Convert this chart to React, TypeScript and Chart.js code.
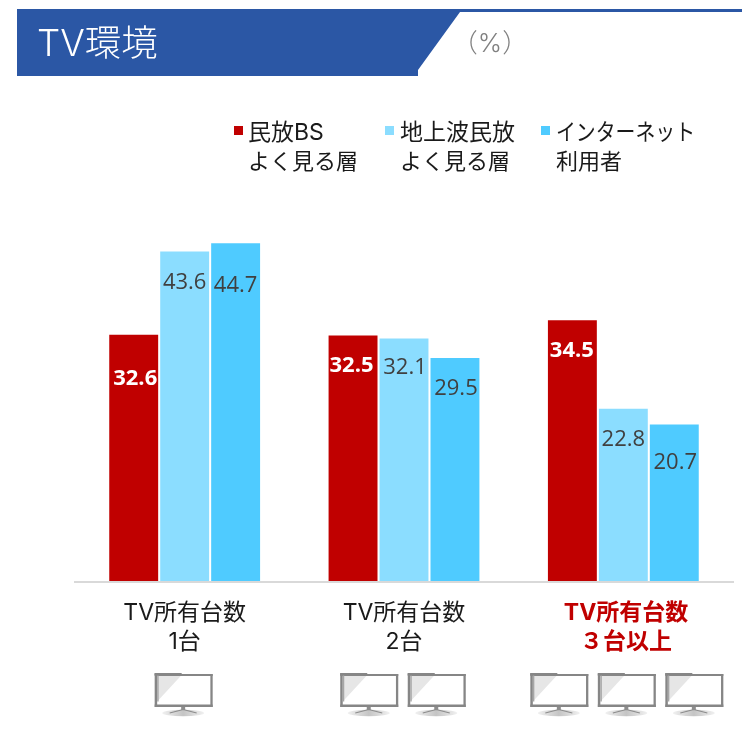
import React, { useEffect, useRef } from "react";
import { Chart, registerables } from "chart.js";

Chart.register(...registerables);

const categories = [
  ["TV所有台数", "1台"],
  ["TV所有台数", "2台"],
  ["TV所有台数", "３台以上"],
];

const bsValues = [32.6, 32.5, 34.5];
const terrestrialValues = [43.6, 32.1, 22.8];
const internetValues = [44.7, 29.5, 20.7];
const tvCounts = [1, 2, 3];

const seriesLabels = [["民放BS", "よく見る層"], ["地上波民放", "よく見る層"], ["インターネット", "利用者"]];
const seriesColors = ["#C00000", "#8BDDFF", "#4FCBFF"];

const TITLE = "TV環境";
const UNIT = "（%）";
const JP = 'Inter, "Noto Sans CJK JP", "Noto Sans", sans-serif';
const NUM = '"Open Sans", "Noto Sans", sans-serif';

// layout only
const legendBoxX = [234, 385, 541];
const legendTextX = [248, 400, 556];
const labelDrop = [
  [44, 30, 30],
  [31, 29, 31],
  [42, 31, 38],
];
const labelShift = [
  [1.5, -1.5, -0.5],
  [0, 1, 0],
  [0, 1, 1],
];
const iconCenterShift = [-1, -1, 3.5];

function drawTv(ctx: CanvasRenderingContext2D, x: number, y: number) {
  // x,y: left/top of frame; frame is 58 x 34
  ctx.save();
  const grad = ctx.createLinearGradient(x + 7, 0, x + 50, 0);
  grad.addColorStop(0, "#f2f2f2");
  grad.addColorStop(0.5, "#c4c4c4");
  grad.addColorStop(1, "#f2f2f2");
  ctx.fillStyle = grad;
  ctx.beginPath();
  ctx.ellipse(x + 28.5, y + 40, 21, 3.2, 0, 0, Math.PI * 2);
  ctx.fill();
  ctx.strokeStyle = "#8c8c8c";
  ctx.lineWidth = 1.2;
  ctx.beginPath();
  ctx.moveTo(x + 15, y + 40);
  ctx.lineTo(x + 28.5, y + 36.5);
  ctx.lineTo(x + 42, y + 40);
  ctx.stroke();
  ctx.fillStyle = "#8c8c8c";
  ctx.fillRect(x + 26.5, y + 33, 4, 4);
  ctx.fillStyle = "#ffffff";
  ctx.fillRect(x, y, 58, 34);
  ctx.fillStyle = "#e6e6e6";
  ctx.beginPath();
  ctx.moveTo(x + 3, y + 2);
  ctx.lineTo(x + 27, y + 2);
  ctx.lineTo(x + 3, y + 28);
  ctx.closePath();
  ctx.fill();
  ctx.fillStyle = "#868686";
  ctx.fillRect(x, y + 1, 58, 2);
  ctx.fillRect(x, y, 27, 2);
  ctx.fillRect(x, y + 31.5, 58, 2.5);
  ctx.fillRect(x + 55.7, y + 1, 2.3, 33);
  ctx.fillRect(x, y, 2.5, 34);
  ctx.fillStyle = "#a6a6a6";
  ctx.fillRect(x + 2.5, y + 2.5, 1.5, 26);
  ctx.restore();
}

const decorPlugin = {
  id: "decor",
  beforeDraw(chart: any) {
    const { ctx } = chart;
    ctx.save();
    ctx.fillStyle = "#ffffff";
    ctx.fillRect(0, 0, chart.width, chart.height);
    ctx.fillStyle = "#2B57A5";
    ctx.fillRect(17, 9, chart.width - 17, 3);
    ctx.beginPath();
    ctx.moveTo(17, 9);
    ctx.lineTo(460, 9);
    ctx.lineTo(460, 12);
    ctx.lineTo(418, 70);
    ctx.lineTo(418, 76);
    ctx.lineTo(17, 76);
    ctx.closePath();
    ctx.fill();
    ctx.textBaseline = "middle";
    ctx.textAlign = "left";
    ctx.fillStyle = "#ffffff";
    ctx.font = `300 36.5px ${JP}`;
    ctx.fillText(TITLE, 37, 45);
    ctx.textAlign = "center";
    ctx.fillStyle = "#808080";
    ctx.font = `300 26px ${JP}`;
    ctx.fillText(UNIT, 490, 44);
    // legend
    ctx.textAlign = "left";
    chart.data.datasets.forEach((ds: any, i: number) => {
      ctx.fillStyle = ds.backgroundColor;
      ctx.fillRect(legendBoxX[i], 126, 9, 9);
      ctx.fillStyle = "#1a1a1a";
      seriesLabels[i].forEach((t, k) => {
        ctx.font = k === 0 ? `400 23px ${JP}` : `400 22px ${JP}`;
        if (i === 2 && k === 0) ctx.fillText(t, legendTextX[i], 133, 139);
        else ctx.fillText(t, legendTextX[i], 133 + 29 * k);
      });
    });
    // TV icons
    const xs = chart.scales.x;
    tvCounts.forEach((n, c) => {
      const cx = xs.getPixelForTick(c) + iconCenterShift[c];
      for (let k = 0; k < n; k++) {
        const left = cx - 29 + (k - (n - 1) / 2) * 67.5;
        drawTv(ctx, left, 673);
      }
    });
    ctx.restore();
  },
  afterDatasetsDraw(chart: any) {
    const { ctx } = chart;
    ctx.save();
    ctx.textAlign = "center";
    ctx.textBaseline = "middle";
    chart.data.datasets.forEach((ds: any, i: number) => {
      const meta = chart.getDatasetMeta(i);
      meta.data.forEach((bar: any, c: number) => {
        ctx.font = i === 0 ? `700 22px ${NUM}` : `400 22px ${NUM}`;
        ctx.fillStyle = i === 0 ? "#ffffff" : "#404040";
        ctx.fillText(ds.data[c].toFixed(1), bar.x + labelShift[i][c], bar.y + labelDrop[i][c]);
      });
    });
    ctx.restore();
  },
};

export default function App() {
  const ref = useRef<HTMLCanvasElement>(null);
  useEffect(() => {
    const chart = new Chart(ref.current!, {
      type: "bar",
      data: {
        labels: categories,
        datasets: [bsValues, terrestrialValues, internetValues].map((data, i) => ({
          label: seriesLabels[i].join(" "),
          data,
          backgroundColor: seriesColors[i],
          categoryPercentage: 0.697,
          barPercentage: 0.96,
        })),
      },
      options: {
        animation: false,
        responsive: false,
        layout: { padding: { left: 75, right: 9, top: 203, bottom: 0 } },
        plugins: { legend: { display: false }, tooltip: { enabled: false } },
        scales: {
          x: {
            afterFit: (s: any) => {
              s.height = 149;
            },
            grid: { display: false, drawTicks: false },
            border: { display: true, color: "#D9D9D9", width: 2 },
            ticks: {
              autoSkip: false,
              maxRotation: 0,
              padding: 16,
              callback: (_v: any, i: number) =>
                i === 2 ? categories[i].map((t) => " " + t) : categories[i],
              color: (c: any) => (c.index === 2 ? "#C00000" : "#1a1a1a"),
              font: (c: any) => ({
                family: JP,
                size: 23,
                weight: c.index === 2 ? "700" : "400",
                lineHeight: 1.27,
              }),
            },
          },
          y: { display: false, min: -0.13, max: 50.03 },
        },
      },
      plugins: [decorPlugin],
    } as any);
    return () => chart.destroy();
  }, []);
  return (
    <div style={{ position: "absolute", left: 0, top: 0, width: 742, height: 731 }}>
      <canvas ref={ref} width={742} height={731} style={{ display: "block" }} />
    </div>
  );
}
